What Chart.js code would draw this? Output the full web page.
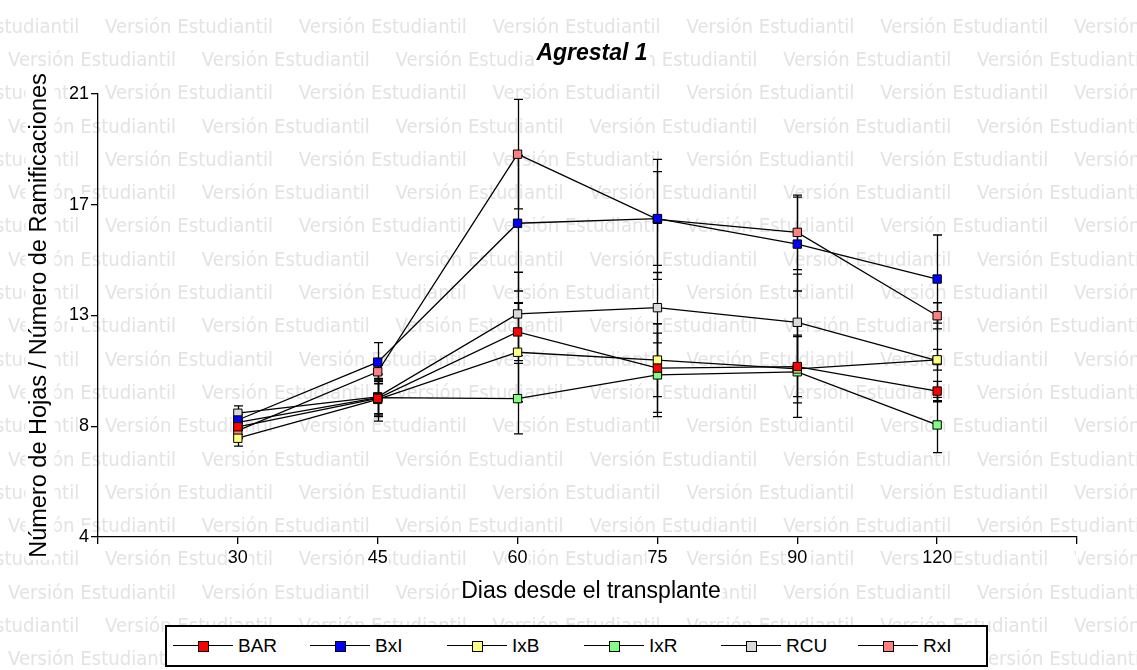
<!DOCTYPE html>
<html><head><meta charset="utf-8">
<script src="https://cdn.jsdelivr.net/npm/chart.js@4"></script>
<style>
html,body{margin:0;padding:0;background:#fff;}
#wrap{position:relative;width:1137px;height:670px;overflow:hidden;}
#c{position:absolute;left:0;top:0;}
#legend{position:absolute;left:165px;top:625px;width:819px;height:38px;border:2px solid #000;background:#fff;font-family:"Liberation Sans",Arial,sans-serif;font-size:19px;color:#000;}
.item{position:absolute;top:0;height:38px;display:flex;align-items:center;}
.sym{position:relative;width:60px;height:38px;}
.ln{position:absolute;left:0;right:0;top:18px;height:1.3px;background:#000;}
.sq{position:absolute;left:25px;top:14px;width:9px;height:9px;border:1px solid #000;}
.lbl{margin-left:5px;}
</style>
</head><body>
<div id="wrap"><canvas id="c" width="1137" height="670"></canvas><div id="legend"></div></div>
<script>
const days = ['30','45','60','75','90','120'];
const seriesNames = ['BAR','BxI','IxB','IxR','RCU','RxI'];
const seriesColors = ['#ff0000','#0000ff','#ffff80','#80ff80','#d9d9d9','#ff8080'];
const BAR = [8.23, 9.32, 11.87, 10.48, 10.54, 9.60];
const BxI = [8.49, 10.71, 16.04, 16.22, 15.24, 13.90];
const IxB = [7.79, 9.28, 11.09, 10.79, 10.45, 10.80];
const IxR = [8.40, 9.35, 9.31, 10.22, 10.34, 8.30];
const RCU = [8.75, 9.38, 12.56, 12.80, 12.24, 10.77];
const RxI = [8.08, 10.34, 18.69, 16.19, 15.69, 12.49];
const BAR_err = [0.30, 0.70, 1.10, 1.70, 1.15, 0.37];
const BxI_err = [0.30, 0.75, 2.60, 1.80, 1.80, 1.69];
const IxB_err = [0.30, 0.60, 1.90, 1.40, 1.30, 0.40];
const IxR_err = [0.30, 0.90, 1.35, 1.60, 1.75, 1.06];
const RCU_err = [0.28, 0.65, 1.60, 1.35, 1.85, 1.58];
const RxI_err = [0.30, 0.25, 2.10, 2.30, 1.43, 0.50];
const yTicks = [4, 8.25, 12.5, 16.75, 21];
const titleText = 'Agrestal 1';
const xTitle = 'Dias desde el transplante';
const yTitle = 'Número de Hojas / Número de Ramificaciones';
const watermark = 'Versión Estudiantil';

const FONT = '"Liberation Sans", Arial, sans-serif';
const labels = ['', ...days, ''];
const values = [BAR, BxI, IxB, IxR, RCU, RxI];
const errs = [BAR_err, BxI_err, IxB_err, IxR_err, RCU_err, RxI_err];
const pad = a => [null, ...a, null];

const datasets = seriesNames.map((n, i) => ({
  label: n,
  data: pad(values[i]),
  errors: pad(errs[i]),
  borderColor: '#000',
  borderWidth: 1.3,
  backgroundColor: seriesColors[i],
  pointStyle: 'rect',
  pointRadius: 5.9,
  pointHoverRadius: 5.9,
  pointBorderColor: '#000',
  pointBorderWidth: 1,
  pointBackgroundColor: seriesColors[i],
  tension: 0,
  fill: false
}));

function textBox(ctx, txt, x, y, font, rot) {
  ctx.save();
  ctx.font = font;
  ctx.translate(x, y);
  if (rot) ctx.rotate(rot);
  const w = ctx.measureText(txt).width;
  const fs = parseFloat(font.match(/(\d+(\.\d+)?)px/)[1]);
  ctx.fillStyle = '#fff';
  ctx.fillRect(-w / 2 - 2, -fs * 0.62, w + 4, fs * 1.24);
  ctx.fillStyle = '#000';
  ctx.textAlign = 'center';
  ctx.textBaseline = 'middle';
  ctx.fillText(txt, 0, 0);
  ctx.restore();
}

const bgPlugin = {
  id: 'bg',
  beforeDraw(chart) {
    const ctx = chart.ctx;
    ctx.save();
    ctx.fillStyle = '#fff';
    ctx.fillRect(0, 0, chart.width, chart.height);
    ctx.font = '20px "DejaVu Sans", sans-serif';
    const w = ctx.measureText(watermark).width;
    const sx = 168 / w;
    ctx.fillStyle = '#e3e3e3';
    ctx.textBaseline = 'middle';
    const P = 193.8;
    for (let k = 0; k < 20; k++) {
      const y = 27.4 + 33.3 * k;
      const start = (k % 2 === 0) ? 105 - P : 8;
      for (let x = start; x < chart.width; x += P) {
        ctx.save();
        ctx.translate(x, y);
        ctx.scale(sx, 1);
        ctx.fillText(watermark, 0, 0);
        ctx.restore();
      }
    }
    ctx.restore();
    const a = chart.chartArea;
    textBox(ctx, titleText, 592, 54, 'italic bold 23px ' + FONT);
    textBox(ctx, xTitle, 591, 592, '23px ' + FONT);
    textBox(ctx, yTitle, 40, (a.top + a.bottom) / 2, '23.5px ' + FONT, -Math.PI / 2);
  }
};

const errPlugin = {
  id: 'errbars',
  beforeDatasetsDraw(chart) {
    const ctx = chart.ctx, xs = chart.scales.x, ys = chart.scales.y;
    ctx.save();
    ctx.strokeStyle = '#000';
    ctx.lineWidth = 1.3;
    chart.data.datasets.forEach(ds => {
      ds.data.forEach((v, i) => {
        if (v == null) return;
        const e = ds.errors[i];
        const x = Math.round(xs.getPixelForValue(i)) + 0.5;
        const y1 = ys.getPixelForValue(v + e), y2 = ys.getPixelForValue(v - e);
        ctx.beginPath();
        ctx.moveTo(x, y1); ctx.lineTo(x, y2);
        ctx.moveTo(x - 4.5, y1); ctx.lineTo(x + 4.5, y1);
        ctx.moveTo(x - 4.5, y2); ctx.lineTo(x + 4.5, y2);
        ctx.stroke();
      });
    });
    ctx.restore();
  }
};

new Chart(document.getElementById('c'), {
  type: 'line',
  data: { labels, datasets },
  plugins: [bgPlugin, errPlugin],
  options: {
    responsive: false,
    animation: false,
    events: [],
    layout: { padding: { top: 94, right: 60, bottom: 73, left: 0 } },
    plugins: { legend: { display: false }, title: { display: false }, tooltip: { enabled: false } },
    scales: {
      x: {
        type: 'category',
        offset: false,
        border: { color: '#000', width: 1.3 },
        grid: { drawOnChartArea: false, drawTicks: true, tickLength: 7, color: '#000', lineWidth: 1.3 },
        ticks: {
          autoSkip: false, maxRotation: 0, color: '#000', padding: 3,
          font: { family: FONT, size: 18 },
          showLabelBackdrop: true, backdropColor: '#fff', backdropPadding: { top: 0, bottom: 0, left: 1, right: 1 }
        },
        afterFit(s) { s.height = 60; }
      },
      y: {
        min: 4, max: 21,
        border: { color: '#000', width: 1.3 },
        grid: { drawOnChartArea: false, drawTicks: true, tickLength: 7, color: '#000', lineWidth: 1.3 },
        afterBuildTicks(s) { s.ticks = yTicks.map(v => ({ value: v })); },
        ticks: {
          color: '#000', padding: 2,
          font: { family: FONT, size: 18 },
          callback: v => String(Math.round(v)),
          showLabelBackdrop: true, backdropColor: '#fff', backdropPadding: { top: 0, bottom: 0, left: 1, right: 1 }
        },
        afterFit(s) { s.width = 98; }
      }
    }
  }
});

const leg = document.getElementById('legend');
seriesNames.forEach((n, i) => {
  const it = document.createElement('div');
  it.className = 'item';
  it.style.left = (203 + 137 * i - 30 - 167) + 'px';
  it.innerHTML = '<span class="sym"><span class="ln"></span><span class="sq" style="background:' + seriesColors[i] + '"></span></span><span class="lbl">' + n + '</span>';
  leg.appendChild(it);
});
</script>
</body></html>
